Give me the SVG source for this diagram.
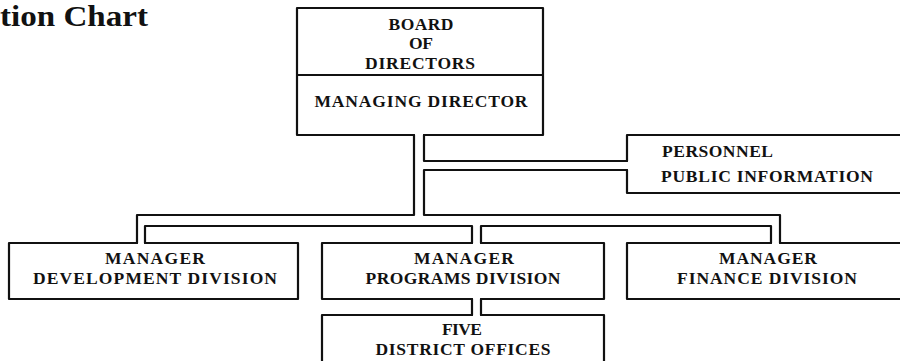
<svg xmlns="http://www.w3.org/2000/svg" width="900" height="361" viewBox="0 0 900 361">
<style>
.ln{fill:none;stroke:#111;stroke-width:2.2;stroke-linejoin:round;stroke-linecap:round}
.t{font-family:"Liberation Serif","Times New Roman",serif;font-size:17.5px;font-weight:bold;fill:#111;text-anchor:middle}
.ts{font-family:"Liberation Serif","Times New Roman",serif;font-size:17.5px;font-weight:bold;fill:#111}
.title{font-family:"Liberation Serif","Times New Roman",serif;font-size:29px;font-weight:bold;fill:#111}
</style>
<rect width="900" height="361" fill="#fff"/>
<text class="title" x="0" y="26" textLength="148" lengthAdjust="spacingAndGlyphs">tion Chart</text>
<g id="connectors">
<path class="ln" d="M414 135 V215 H137 V243"/>
<path class="ln" d="M424 135 V161 H627"/>
<path class="ln" d="M627 170 H424 V215 H780 V243"/>
<path class="ln" d="M145 243 V226 H472 V243"/>
<path class="ln" d="M481 243 V226 H771 V243"/>
<path class="ln" d="M472 299 V315 M481 299 V315"/>
</g>
<g id="board">
<path class="ln" d="M424 135 H543 V8 H297 V135 H414 M297 75 H543"/>
<text class="t" x="421" y="30" textLength="65" lengthAdjust="spacing">BOARD</text>
<text class="t" x="421" y="49" textLength="24" lengthAdjust="spacing">OF</text>
<text class="t" x="420" y="69" textLength="110" lengthAdjust="spacing">DIRECTORS</text>
<text class="t" x="421" y="107" textLength="213" lengthAdjust="spacing">MANAGING DIRECTOR</text>
</g>
<g id="personnel">
<path class="ln" d="M627 161 V135 H900 M900 193 H627 V170"/>
<text class="ts" x="662" y="157" textLength="111" lengthAdjust="spacing">PERSONNEL</text>
<text class="ts" x="661" y="182" textLength="212" lengthAdjust="spacing">PUBLIC INFORMATION</text>
</g>
<g id="development">
<path class="ln" d="M137 243 H9 V299 H298 V243 H145"/>
<text class="t" x="155" y="264" textLength="100" lengthAdjust="spacing">MANAGER</text>
<text class="t" x="155" y="284" textLength="244" lengthAdjust="spacing">DEVELOPMENT DIVISION</text>
</g>
<g id="programs">
<path class="ln" d="M472 243 H322 V299 H472 M481 299 H604 V243 H481"/>
<text class="t" x="464" y="264" textLength="100" lengthAdjust="spacing">MANAGER</text>
<text class="t" x="463" y="284" textLength="195" lengthAdjust="spacing">PROGRAMS DIVISION</text>
</g>
<g id="finance">
<path class="ln" d="M771 243 H627 V299 H900 M900 243 H780"/>
<text class="t" x="768" y="264" textLength="98" lengthAdjust="spacing">MANAGER</text>
<text class="t" x="767" y="284" textLength="180" lengthAdjust="spacing">FINANCE DIVISION</text>
</g>
<g id="district">
<path class="ln" d="M472 315 H322 V361 M604 361 V315 H481"/>
<text class="t" x="462" y="335" textLength="40" lengthAdjust="spacing">FIVE</text>
<text class="t" x="463" y="355" textLength="175" lengthAdjust="spacing">DISTRICT OFFICES</text>
</g>
</svg>
